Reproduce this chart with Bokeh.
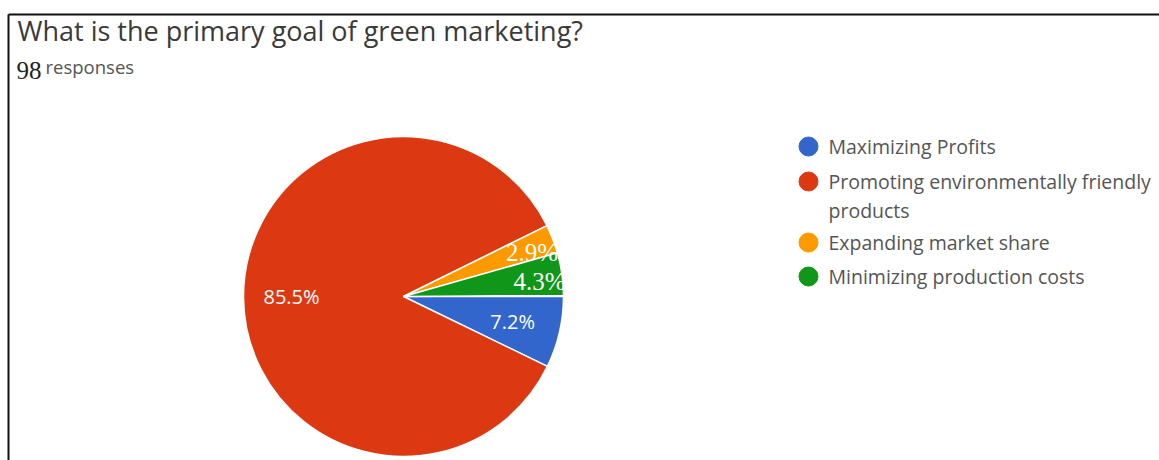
import numpy as np
from bokeh.plotting import figure
from bokeh.models import Range1d, ColumnDataSource
from bokeh.core.properties import value
from bokeh.embed import file_html
from bokeh.resources import INLINE

# ---- data ----
categories = ["Maximizing Profits", "Promoting environmentally friendly\nproducts",
              "Expanding market share", "Minimizing production costs"]
percents = [7.2, 85.5, 2.9, 4.3]
colors = ["#3366CC", "#DC3912", "#FF9900", "#109618"]
title_text = "What is the primary goal of green marketing?"
responses_count = "98"
responses_word = "responses"

W, H = 1159, 460
p = figure(width=W, height=H, output_backend="svg", toolbar_location=None,
           x_range=Range1d(0, W), y_range=Range1d(0, H), min_border=0)
p.axis.visible = False
p.grid.visible = False
p.outline_line_color = None
p.background_fill_color = "white"
p.border_fill_color = "white"

def Y(y):
    return H - y

# frame lines (top and left)
p.line([8, W], [Y(14), Y(14)], line_color="#111111", line_width=2)
p.line([8, 8], [Y(14), Y(H)], line_color="#111111", line_width=2)

# title
p.text([17], [Y(30)], text=[title_text], text_font=value("Open Sans"),
       text_font_size="27px", text_color="#3a3a3a", text_baseline="middle")
p.text([16], [Y(70)], text=[responses_count], text_font=value("Liberation Serif"),
       text_font_size="25px", text_color="#222222", text_baseline="middle")
p.text([45], [Y(66)], text=[responses_word], text_font=value("Open Sans"),
       text_font_size="18.5px", text_color="#555555", text_baseline="middle")

# pie
cx, cy, r = 403, Y(296), 160
frac = np.array(percents) / 100.0
cum = np.concatenate([[0], np.cumsum(frac)])
starts = -2 * np.pi * cum[1:]
ends = -2 * np.pi * cum[:-1]
src = ColumnDataSource(dict(start=starts, end=ends, color=colors))
p.wedge(x=cx, y=cy, radius=r, start_angle="start", end_angle="end",
        direction="anticlock", fill_color="color", line_color="white",
        line_width=1.5, source=src)

mid = (starts + ends) / 2
labels = [f"{v:.1f}%" for v in percents]
for i in range(4):
    if percents[i] >= 5:
        rr = 0.7 * r
        lx = cx + rr * np.cos(mid[i])
        ly = cy + rr * np.sin(mid[i])
        p.text([lx], [ly], text=[labels[i]], text_font=value("Open Sans"),
               text_font_size="20px", text_color="white", text_align="center",
               text_baseline="middle")
    else:
        rr = 0.84 * r
        lx = cx + rr * np.cos(mid[i])
        ly = cy + rr * np.sin(mid[i])
        p.text([lx], [ly], text=[labels[i]], text_font=value("Liberation Serif"),
               text_font_size="25px", text_color="white", text_align="center",
               text_baseline="middle", x_offset=3, y_offset=4)

# legend
leg_y = [146, 181, 242, 276]
for i in range(4):
    p.scatter([808], [Y(leg_y[i])], size=19, marker="circle", fill_color=colors[i],
              line_color=colors[i])
    p.text([828], [Y(leg_y[i])], text=[categories[i]], text_font=value("Open Sans"),
           text_font_size="19.5px", text_color="#555555", text_baseline="top",
           y_offset=-14, text_line_height=1.08)

open("out.html", "w").write(file_html(p, INLINE))
